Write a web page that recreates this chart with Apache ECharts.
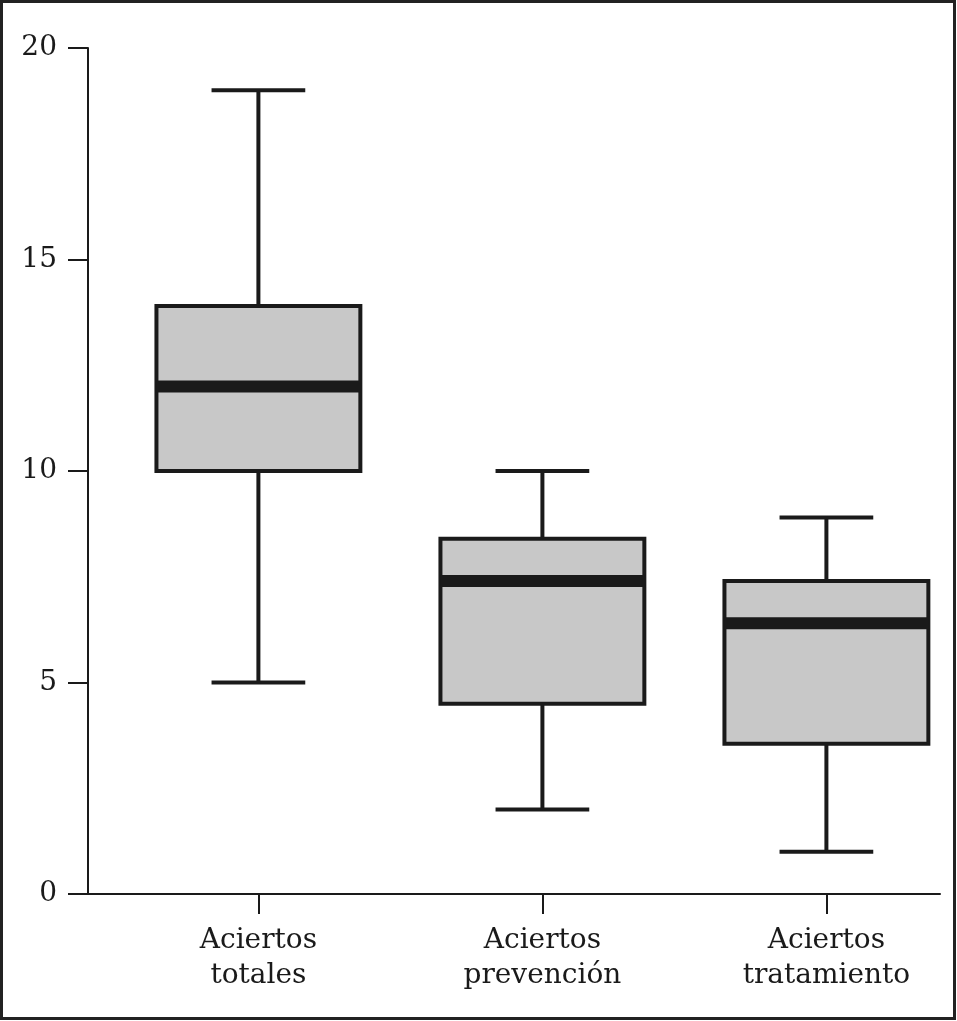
<!DOCTYPE html>
<html>
<head>
<meta charset="utf-8">
<script src="https://cdn.jsdelivr.net/npm/echarts@6/dist/echarts.min.js"></script>
<style>
html,body{margin:0;padding:0;background:#fff;}
#chart{width:957px;height:1021px;}
</style>
</head>
<body>
<div id="chart"></div>
<script>
// Data
const categories = ['Aciertos\ntotales', 'Aciertos\nprevención', 'Aciertos\ntratamiento'];
const whiskerLow  = [5, 2, 1];
const quartile1   = [10, 4.5, 3.55];
const medians     = [12, 7.4, 6.4];
const quartile3   = [13.9, 8.4, 7.4];
const whiskerHigh = [19, 10, 8.9];
const yTicks = [0, 5, 10, 15, 20];

const rows = categories.map((c, i) => [i + 1, whiskerLow[i], quartile1[i], medians[i], quartile3[i], whiskerHigh[i]]);

const INK = '#1a1a1a';
const FONT = '"DejaVu Serif", "Liberation Serif", serif';
const BOX_W = 0.718;   // in x-axis units
const CAP_W = 0.33;

const chart = echarts.init(document.getElementById('chart'), null, {renderer: 'canvas'});
chart.setOption({
  animation: false,
  backgroundColor: '#fff',
  graphic: [{
    type: 'rect',
    shape: {x: 1.5, y: 1.5, width: 953, height: 1017},
    style: {fill: 'none', stroke: '#222', lineWidth: 3},
    silent: true,
    z: 100
  }],
  grid: {left: 88, right: 17, top: 48, bottom: 127, containLabel: false},
  xAxis: {
    type: 'value',
    min: 0.4,
    max: 3.4,
    splitLine: {show: false},
    axisLine: {show: true, lineStyle: {color: INK, width: 2}},
    axisTick: {show: true, customValues: [1, 2, 3], length: 20, lineStyle: {color: INK, width: 2}},
    axisLabel: {
      show: true,
      customValues: [1, 2, 3],
      formatter: v => categories[Math.round(v) - 1] || '',
      margin: 29,
      fontFamily: FONT,
      fontSize: 28,
      lineHeight: 35,
      color: INK,
      align: 'center'
    }
  },
  yAxis: {
    type: 'value',
    min: 0,
    max: 20,
    interval: 5,
    splitLine: {show: false},
    axisLine: {show: true, lineStyle: {color: INK, width: 2}},
    axisTick: {show: true, customValues: yTicks, length: 20, lineStyle: {color: INK, width: 2}},
    axisLabel: {
      show: true,
      customValues: yTicks,
      margin: 31,
      fontFamily: FONT,
      fontSize: 28,
      color: INK
    }
  },
  series: [{
    type: 'custom',
    data: rows,
    encode: {x: 0, y: [1, 2, 3, 4, 5]},
    renderItem: function (params, api) {
      const x = api.value(0);
      const pLo = api.coord([x, api.value(1)]);
      const pQ1 = api.coord([x, api.value(2)]);
      const pMed = api.coord([x, api.value(3)]);
      const pQ3 = api.coord([x, api.value(4)]);
      const pHi = api.coord([x, api.value(5)]);
      const bw = api.size([BOX_W, 0])[0];
      const cw = api.size([CAP_W, 0])[0];
      const cx = pMed[0];
      const lineStyle = {stroke: INK, lineWidth: 4, fill: null};
      return {
        type: 'group',
        children: [
          {type: 'line', shape: {x1: cx, y1: pHi[1], x2: cx, y2: pQ3[1]}, style: lineStyle},
          {type: 'line', shape: {x1: cx, y1: pQ1[1], x2: cx, y2: pLo[1]}, style: lineStyle},
          {type: 'line', shape: {x1: cx - cw / 2, y1: pHi[1], x2: cx + cw / 2, y2: pHi[1]}, style: lineStyle},
          {type: 'line', shape: {x1: cx - cw / 2, y1: pLo[1], x2: cx + cw / 2, y2: pLo[1]}, style: lineStyle},
          {type: 'rect', shape: {x: cx - bw / 2, y: pQ3[1], width: bw, height: pQ1[1] - pQ3[1]},
            style: {fill: '#c8c8c8', stroke: INK, lineWidth: 4}},
          {type: 'line', shape: {x1: cx - bw / 2, y1: pMed[1], x2: cx + bw / 2, y2: pMed[1]},
            style: {stroke: INK, lineWidth: 12}}
        ]
      };
    }
  }]
});
</script>
</body>
</html>
